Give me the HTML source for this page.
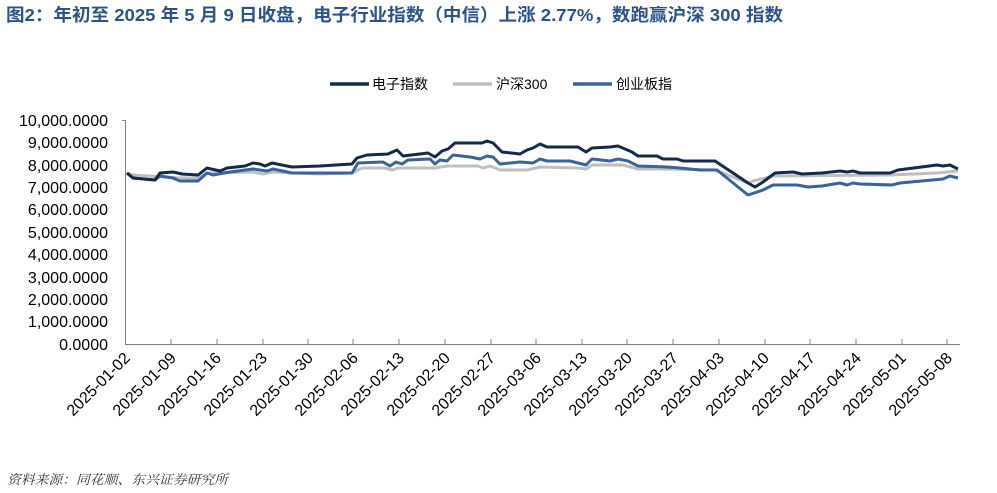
<!DOCTYPE html>
<html><head><meta charset="utf-8"><style>
html,body{margin:0;padding:0;background:#fff;}
body{width:997px;height:493px;overflow:hidden;position:relative;}
</style></head><body>
<svg width="997" height="493" viewBox="0 0 997 493" xmlns="http://www.w3.org/2000/svg" style="position:absolute;left:0;top:0">
<text x="6" y="21" textLength="777" lengthAdjust="spacingAndGlyphs" font-family="Liberation Sans, Noto Sans CJK SC, sans-serif" font-size="17.5" font-weight="bold" fill="#2c5388">图2：年初至 2025 年 5 月 9 日收盘，电子行业指数（中信）上涨 2.77%，数跑赢沪深 300 指数</text>
<g font-family="Liberation Sans, Noto Sans CJK SC, sans-serif" font-size="14" fill="#000">
<line x1="330" y1="84" x2="369" y2="84" stroke="#142a4a" stroke-width="3.5"/>
<text x="372" y="89">电子指数</text>
<line x1="453" y1="84" x2="492" y2="84" stroke="#bfbfbf" stroke-width="3.5"/>
<text x="496" y="89">沪深300</text>
<line x1="573" y1="84" x2="612" y2="84" stroke="#3a6499" stroke-width="3.5"/>
<text x="616" y="89">创业板指</text>
</g>
<g font-family="Liberation Sans, sans-serif" font-size="16" fill="#000" text-anchor="end">
<text x="108" y="126">10,000.0000</text>
<text x="108" y="148">9,000.0000</text>
<text x="108" y="171">8,000.0000</text>
<text x="108" y="193">7,000.0000</text>
<text x="108" y="215">6,000.0000</text>
<text x="108" y="238">5,000.0000</text>
<text x="108" y="260">4,000.0000</text>
<text x="108" y="283">3,000.0000</text>
<text x="108" y="305">2,000.0000</text>
<text x="108" y="327">1,000.0000</text>
<text x="108" y="350">0.0000</text>
</g>
<g stroke="#808080" stroke-width="1">
<line x1="125.5" y1="120" x2="125.5" y2="344"/>
<line x1="125" y1="344.5" x2="960" y2="344.5"/>
<line x1="122" y1="120.5" x2="125" y2="120.5"/>
<line x1="171" y1="339" x2="171" y2="344"/><line x1="217" y1="339" x2="217" y2="344"/><line x1="263" y1="339" x2="263" y2="344"/><line x1="308" y1="339" x2="308" y2="344"/><line x1="353" y1="339" x2="353" y2="344"/><line x1="399" y1="339" x2="399" y2="344"/><line x1="445" y1="339" x2="445" y2="344"/><line x1="491" y1="339" x2="491" y2="344"/><line x1="536" y1="339" x2="536" y2="344"/><line x1="582" y1="339" x2="582" y2="344"/><line x1="627" y1="339" x2="627" y2="344"/><line x1="673" y1="339" x2="673" y2="344"/><line x1="719" y1="339" x2="719" y2="344"/><line x1="765" y1="339" x2="765" y2="344"/><line x1="810" y1="339" x2="810" y2="344"/><line x1="856" y1="339" x2="856" y2="344"/><line x1="902" y1="339" x2="902" y2="344"/><line x1="947" y1="339" x2="947" y2="344"/>
</g>
<g font-family="Liberation Sans, sans-serif" font-size="16" fill="#000" text-anchor="end">
<text transform="translate(131,359) rotate(-45)">2025-01-02</text>
<text transform="translate(177,359) rotate(-45)">2025-01-09</text>
<text transform="translate(222,359) rotate(-45)">2025-01-16</text>
<text transform="translate(268,359) rotate(-45)">2025-01-23</text>
<text transform="translate(314,359) rotate(-45)">2025-01-30</text>
<text transform="translate(359,359) rotate(-45)">2025-02-06</text>
<text transform="translate(405,359) rotate(-45)">2025-02-13</text>
<text transform="translate(451,359) rotate(-45)">2025-02-20</text>
<text transform="translate(496,359) rotate(-45)">2025-02-27</text>
<text transform="translate(542,359) rotate(-45)">2025-03-06</text>
<text transform="translate(588,359) rotate(-45)">2025-03-13</text>
<text transform="translate(633,359) rotate(-45)">2025-03-20</text>
<text transform="translate(679,359) rotate(-45)">2025-03-27</text>
<text transform="translate(725,359) rotate(-45)">2025-04-03</text>
<text transform="translate(770,359) rotate(-45)">2025-04-10</text>
<text transform="translate(816,359) rotate(-45)">2025-04-17</text>
<text transform="translate(862,359) rotate(-45)">2025-04-24</text>
<text transform="translate(907,359) rotate(-45)">2025-05-01</text>
<text transform="translate(953,359) rotate(-45)">2025-05-08</text>
</g>
<g fill="none" stroke-width="3" stroke-linejoin="round">
<polyline stroke="#bfbfbf" points="127,173 133,175 180,178 198,178 207,173 253,172 263,174 273,172 292,173 320,174 352,173 362,168 385,168 392,170 398,168 435,168 447,166 478,166 483,168 490,166 500,170 520,170 527,170 540,167 578,168 586,169 592,165 623,165 638,169 667,169 715,170 748,183 753,181 773,176 890,175 937,173 958,171"/>
<polyline stroke="#3a6499" points="127,173 133,178 155,180 160,176 173,178 180,181 198,181 207,173 213,175 230,172 253,169 267,171 273,169 292,173 320,173 352,173 358,163 383,162 390,166 396,162 402,164 408,160 430,159 435,164 440,160 447,161 453,155 470,157 480,159 487,156 493,157 500,164 520,162 533,163 540,159 547,161 570,161 578,163 586,165 592,159 610,161 618,159 628,161 638,166 667,167 680,168 700,170 717,170 748,195 763,190 773,185 797,185 808,187 822,186 840,183 847,185 853,183 860,184 892,185 900,183 943,179 950,176 958,178"/>
<polyline stroke="#142a4a" points="127,173 133,178 155,180 160,173 173,172 182,174 198,175 207,168 220,171 227,168 245,166 253,163 260,164 265,166 272,163 292,167 320,166 352,164 357,158 367,155 388,154 397,150 403,156 428,153 435,157 442,151 448,149 455,143 482,143 487,141 493,143 502,152 520,154 527,150 533,148 540,144 547,147 578,147 586,152 592,148 610,147 618,146 632,152 638,156 657,156 663,159 677,159 683,161 715,161 748,183 755,187 763,182 775,173 793,172 802,174 822,173 840,171 847,172 853,171 860,173 890,173 898,170 937,165 943,166 950,165 958,169"/>
</g>
<text x="7" y="484" textLength="221" lengthAdjust="spacingAndGlyphs" font-family="Liberation Serif, Noto Serif CJK SC, serif" font-style="italic" font-size="13" fill="#333">资料来源：同花顺、东兴证券研究所</text>
</svg>
</body></html>
